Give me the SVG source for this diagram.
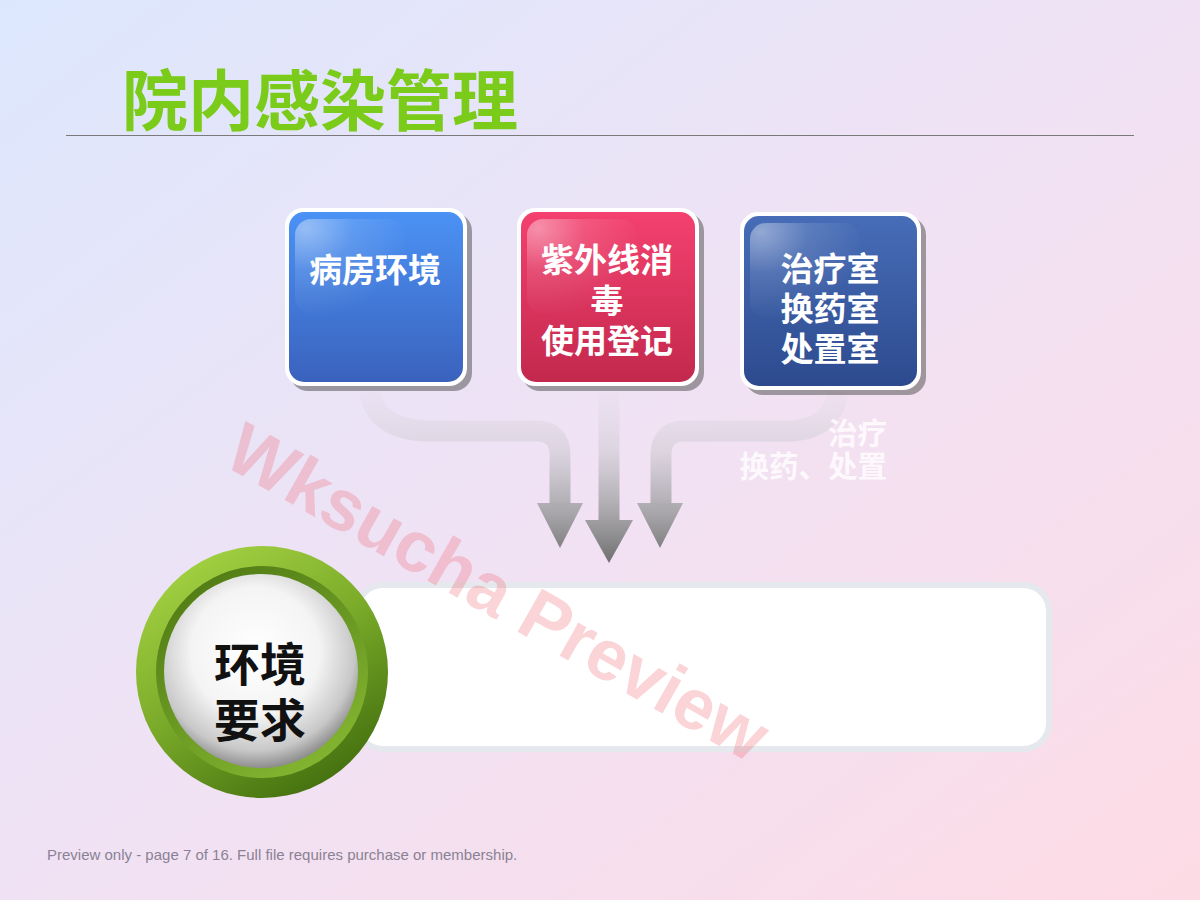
<svg xmlns="http://www.w3.org/2000/svg" width="1200" height="900" viewBox="0 0 1200 900">
<defs>
  <linearGradient id="bg" x1="0" y1="0" x2="1" y2="1">
    <stop offset="0" stop-color="#dce7fd"/>
    <stop offset="0.5" stop-color="#f0e2f4"/>
    <stop offset="1" stop-color="#fddbe5"/>
  </linearGradient>
  <linearGradient id="gBlue" x1="0" y1="0" x2="0" y2="1">
    <stop offset="0" stop-color="#4b92f5"/>
    <stop offset="1" stop-color="#3a62bd"/>
  </linearGradient>
  <linearGradient id="gRed" x1="0" y1="0" x2="0" y2="1">
    <stop offset="0" stop-color="#f4416f"/>
    <stop offset="1" stop-color="#c3284d"/>
  </linearGradient>
  <linearGradient id="gNavy" x1="0" y1="0" x2="0" y2="1">
    <stop offset="0" stop-color="#476db8"/>
    <stop offset="1" stop-color="#2d4a8e"/>
  </linearGradient>
  <radialGradient id="gloss" cx="0.1" cy="0.1" r="0.95">
    <stop offset="0" stop-color="#ffffff" stop-opacity="0.42"/>
    <stop offset="0.45" stop-color="#ffffff" stop-opacity="0.12"/>
    <stop offset="1" stop-color="#ffffff" stop-opacity="0"/>
  </radialGradient>
  <linearGradient id="gArrow" gradientUnits="userSpaceOnUse" x1="0" y1="392" x2="0" y2="565">
    <stop offset="0" stop-color="#e6dcea" stop-opacity="0.3"/>
    <stop offset="0.35" stop-color="#d6d0da" stop-opacity="0.8"/>
    <stop offset="0.7" stop-color="#a8a6aa"/>
    <stop offset="1" stop-color="#6e6e6e"/>
  </linearGradient>
  <linearGradient id="gRing" x1="0.2" y1="0" x2="0.8" y2="1">
    <stop offset="0" stop-color="#a6d444"/>
    <stop offset="0.5" stop-color="#78a828"/>
    <stop offset="1" stop-color="#3e6a0c"/>
  </linearGradient>
  <linearGradient id="gRim" x1="0.2" y1="0" x2="0.8" y2="1">
    <stop offset="0" stop-color="#4f7a14"/>
    <stop offset="1" stop-color="#86b832"/>
  </linearGradient>
  <radialGradient id="gBall" cx="0.47" cy="0.4" r="0.6">
    <stop offset="0" stop-color="#ffffff"/>
    <stop offset="0.55" stop-color="#f4f4f4"/>
    <stop offset="0.85" stop-color="#c8c8c8"/>
    <stop offset="1" stop-color="#8e8e8e"/>
  </radialGradient>
  <style>
    .cjk { font-family: "Noto Sans CJK SC", "Noto Sans", sans-serif; font-weight: 700; }
    .boxtxt { fill: #ffffff; font-size: 33px; text-anchor: middle; }
    .shadow { fill: #4a4a4a; opacity: 0.5; }
    .frame { fill: #ffffff; }
    .gl { fill: url(#gloss); }
    .shaft { fill: none; stroke: url(#gArrow); stroke-width: 21; }
    .head { fill: url(#gArrow); }
  </style>
</defs>

<rect width="1200" height="900" fill="url(#bg)"/>

<!-- title -->
<g id="title">
  <text x="122" y="125" class="cjk" font-size="66" fill="#7acb1a">院内感染管理</text>
  <line x1="66" y1="135.5" x2="1134" y2="135.5" stroke="#7a7a7a" stroke-width="1"/>
</g>

<!-- connectors -->
<g id="connectors">
  <path class="shaft" d="M 370 392 Q 376 431 432 431 L 536 431 Q 560 431 560 455 L 560 506"/>
  <polygon class="head" points="537,503 583,503 560,548"/>
  <path class="shaft" d="M 609 392 L 609 522"/>
  <polygon class="head" points="585,520 633,520 609,563"/>
  <path class="shaft" d="M 838 392 Q 832 431 786 431 L 685 431 Q 661 431 661 455 L 661 506"/>
  <polygon class="head" points="637,503 683,503 660,548"/>
</g>

<!-- box 1 -->
<g id="node-ward">
  <rect class="shadow" x="290" y="213" width="182" height="178" rx="18"/>
  <rect class="frame" x="285" y="208" width="182" height="178" rx="18"/>
  <rect x="289" y="212" width="174" height="170" rx="15" fill="url(#gBlue)"/>
  <rect class="gl" x="295" y="219" width="110" height="95" rx="16"/>
  <text class="cjk boxtxt" x="375" y="282">病房环境</text>
</g>

<!-- box 2 -->
<g id="node-uv">
  <rect class="shadow" x="522" y="213" width="182" height="178" rx="18"/>
  <rect class="frame" x="517" y="208" width="182" height="178" rx="18"/>
  <rect x="521" y="212" width="174" height="170" rx="15" fill="url(#gRed)"/>
  <rect class="gl" x="527" y="219" width="110" height="95" rx="16"/>
  <text class="cjk boxtxt"><tspan x="607" y="272">紫外线消</tspan><tspan x="607" y="313">毒</tspan><tspan x="607" y="353">使用登记</tspan></text>
</g>

<!-- box 3 -->
<g id="node-rooms">
  <rect class="shadow" x="745" y="217" width="181" height="178" rx="18"/>
  <rect class="frame" x="740" y="212" width="181" height="178" rx="18"/>
  <rect x="744" y="216" width="173" height="170" rx="15" fill="url(#gNavy)"/>
  <rect class="gl" x="750" y="223" width="110" height="95" rx="16"/>
  <text class="cjk boxtxt"><tspan x="830" y="281">治疗室</tspan><tspan x="830" y="321">换药室</tspan><tspan x="830" y="361">处置室</tspan></text>
</g>

<!-- side label -->
<g id="label-side">
  <text class="cjk" font-size="29.5" fill="#ffffff" fill-opacity="0.8" text-anchor="end"><tspan x="887" y="444">治疗</tspan><tspan x="887" y="477">换药、处置</tspan></text>
</g>

<!-- panel -->
<g id="node-panel">
  <rect x="357" y="585" width="692" height="164" rx="26" fill="#ffffff" stroke="#e5e9ed" stroke-width="6"/>
</g>

<!-- circle -->
<g id="node-env">
  <circle cx="262" cy="672" r="126" fill="url(#gRing)"/>
  <circle cx="262" cy="672" r="106" fill="url(#gRim)"/>
  <circle cx="261" cy="671" r="97" fill="url(#gBall)"/>
  <text class="cjk" font-size="46" fill="#111111" text-anchor="middle"><tspan x="260" y="681">环境</tspan><tspan x="260" y="737">要求</tspan></text>
</g>

<!-- watermark -->
<text transform="translate(498,592) rotate(29.5)" text-anchor="middle" dy="25" font-family="Liberation Sans, Arial, sans-serif" font-weight="700" font-size="72" fill="#f05560" fill-opacity="0.25">Wksucha Preview</text>

<!-- footer -->
<text x="47" y="860" font-family="Liberation Sans, Arial, sans-serif" font-size="15" fill="#8a8294">Preview only - page 7 of 16. Full file requires purchase or membership.</text>
</svg>
